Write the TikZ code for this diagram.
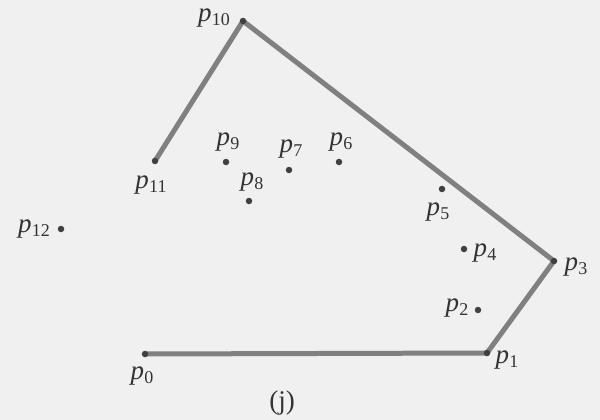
\documentclass[tikz,border=0pt]{standalone}
\usepackage{fontspec}
\setmainfont{Liberation Serif}
\newcommand\plab[1]{\textit{p}\kern0.01em\raisebox{-0.3ex}{\fontsize{18}{18}\selectfont #1}}
\begin{document}
\begin{tikzpicture}[x=1pt,y=-1pt,
  pt/.style={circle,fill=black!75,inner sep=0pt,minimum size=6.5pt},
  hull/.style={draw=black!50,line width=5pt,line cap=round,line join=round},
  lab/.style={font=\fontsize{27}{27}\selectfont,inner sep=0pt,text=black!80}]
\fill[black!6] (0,0) rectangle (600,420);
\useasboundingbox (0,0) rectangle (600,420);
\coordinate (p0) at (145,354);
\coordinate (p1) at (487,353);
\coordinate (p2) at (478,310);
\coordinate (p3) at (554,261);
\coordinate (p4) at (464,249);
\coordinate (p5) at (442,189);
\coordinate (p6) at (339,162);
\coordinate (p7) at (289,170);
\coordinate (p8) at (249,201);
\coordinate (p9) at (226,162);
\coordinate (p10) at (243,21);
\coordinate (p11) at (155,161);
\coordinate (p12) at (61,229);
\draw[hull] (p0) -- (p1) -- (p3) -- (p10) -- (p11);
\foreach \i in {0,...,12} \node[pt] (d\i) at (p\i) {};
\node[lab] (l0) at (142,376) {\plab{0}};
\node[lab] (l1) at (507,360) {\plab{1}};
\node[lab] (l2) at (457,308) {\plab{2}};
\node[lab] (l3) at (576,267) {\plab{3}};
\node[lab] (l4) at (485,253) {\plab{4}};
\node[lab] (l5) at (438,212) {\plab{5}};
\node[lab] (l6) at (341,142) {\plab{6}};
\node[lab] (l7) at (291,149) {\plab{7}};
\node[lab] (l8) at (252,182) {\plab{8}};
\node[lab] (l9) at (228,142) {\plab{9}};
\node[lab] (l10) at (214,18) {\plab{10}};
\node[lab] (l11) at (151,185) {\plab{11}};
\node[lab] (l12) at (34,229) {\plab{12}};
\node[lab] (cap) at (282,403) {(j)};
\end{tikzpicture}
\end{document}
